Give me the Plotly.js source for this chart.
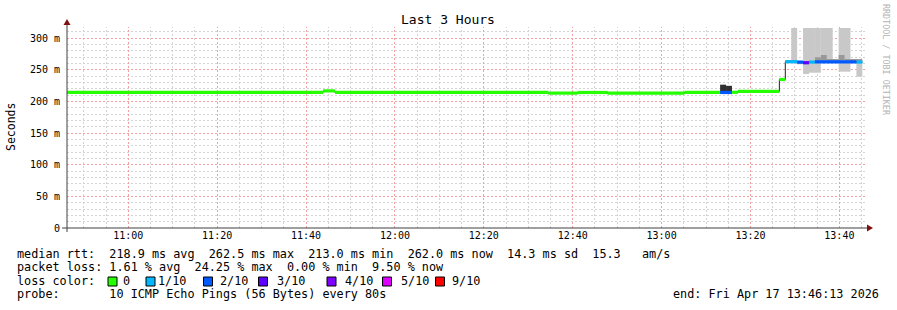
<!DOCTYPE html>
<html><head><meta charset="utf-8">
<script src="https://cdn.plot.ly/plotly-3.0.1.min.js"></script>
<style>html,body{margin:0;padding:0;background:#fff}#chart{width:897px;height:310px}</style>
</head><body><div id="chart"></div>
<script>
const DAY = '2026-04-17';
const windowStart = '10:46:13';
const windowEnd = '13:46:13';

// median RTT (ms), drawn as steps; loss level index per step segment
const segStart = ['10:46:13','11:43:50','11:46:30','12:34:30','12:41:10','12:47:50','13:05:10','13:13:10','13:15:50','13:17:10','13:26:30','13:27:50','13:30:30','13:31:50','13:33:10','13:34:30','13:43:50'];
const segEnd   = ['11:43:50','11:46:30','12:34:30','12:41:10','12:47:50','13:05:10','13:13:10','13:15:50','13:17:10','13:26:30','13:27:50','13:30:30','13:31:50','13:33:10','13:34:30','13:43:50','13:45:10'];
const medianMs = [214.0,216.5,214.0,213.0,214.0,213.0,214.3,214.0,214.3,215.8,234.5,262.5,262.0,261.0,262.0,262.3,262.0];
const lossLevel = [0,0,0,0,0,0,0,2,0,0,0,1,2,3,1,2,1];

// smoke (ping spread), ms; shade 0 light, 1 medium, 2 dark
const smokeStart = ['13:29:10','13:31:50','13:33:10','13:34:30','13:35:50','13:39:50','13:43:50',
                    '13:27:50','13:30:30','13:34:30','13:35:50','13:37:10','13:39:50','13:41:10',
                    '13:13:10','13:14:30'];
const smokeEnd   = ['13:30:30','13:33:10','13:34:30','13:35:50','13:38:30','13:42:30','13:45:10',
                    '13:30:30','13:33:10','13:35:50','13:37:10','13:39:50','13:41:10','13:45:10',
                    '13:14:30','13:15:50'];
const smokeLow   = [262.5,243.2,245.2,245.2,262.0,246.8,238.9,
                    263.0,258.7,261.0,261.0,260.5,260.5,260.5,
                    215.0,215.0];
const smokeHigh  = [315.8,315.8,315.8,315.8,315.8,315.8,262.0,
                    265.2,261.9,269.5,273.2,266.8,273.2,266.8,
                    226.3,224.5];
const smokeShade = [0,0,0,0,0,0,0, 1,1,1,1,1,1,1, 2,2];
const shadeColors = ['#c8c8c8','#999999','#303030'];

const lossLabels = ['0','1/10','2/10','3/10','4/10','5/10','9/10'];
const lossColors = ['#26ff00','#00b8ff','#0059ff','#5e00ff','#7e00ff','#dd00ff','#ff0000'];

const yTickVals = [0,50,100,150,200,250,300];
const yTickText = ['0','50 m','100 m','150 m','200 m','250 m','300 m'];
const xTickVals = ['11:00','11:20','11:40','12:00','12:20','12:40','13:00','13:20','13:40'];

const legendLine1 = 'median rtt:  218.9 ms avg  262.5 ms max  213.0 ms min  262.0 ms now  14.3 ms sd  15.3   am/s';
const legendLine2 = 'packet loss: 1.61 % avg  24.25 % max  0.00 % min  9.50 % now';
const legendLine3 = 'loss color:';
const legendLine4 = 'probe:       10 ICMP Echo Pings (56 Bytes) every 80s';
const endText = 'end: Fri Apr 17 13:46:13 2026';
const titleText = 'Last 3 Hours';
const yTitle = 'Seconds';
const watermark = 'RRDTOOL / TOBI OETIKER';

// ---- build ----
const T = t => DAY + ' ' + (t.length === 5 ? t + ':00' : t);
const ms = t => Date.parse(DAY + 'T' + (t.length === 5 ? t + ':00' : t));
const nb = s => s.replace(/ /g, '\u00a0');

const traces = [];
for (let s = 0; s < shadeColors.length; s++) {
  const idx = smokeShade.map((v,i)=>v===s?i:-1).filter(i=>i>=0);
  traces.push({
    type:'bar', x: idx.map(i=>T(smokeStart[i])), base: idx.map(i=>smokeLow[i]),
    y: idx.map(i=>smokeHigh[i]-smokeLow[i]),
    width: idx.map(i=>ms(smokeEnd[i])-ms(smokeStart[i])), offset: 0,
    marker:{color: shadeColors[s], line:{width:0}}, hoverinfo:'skip'
  });
}
traces.push({
  type:'scatter', mode:'lines', x: segStart.map(T).concat([T(segEnd[segEnd.length-1])]),
  y: medianMs.concat([medianMs[medianMs.length-1]]), line:{shape:'hv', color:'#202020', width:1}
});
for (let L = 0; L < lossColors.length; L++) {
  const xs = [], ys = [];
  lossLevel.forEach((lv,i)=>{ if (lv===L) { xs.push(T(segStart[i]), T(segEnd[i]), null); ys.push(medianMs[i], medianMs[i], null); } });
  if (xs.length) traces.push({type:'scatter', mode:'lines', x: xs, y: ys, connectgaps:false,
    line:{color: lossColors[L], width:3.2}});
}

const PL=67, PR=867, PT=27, PB=228;
const PX = p => (p-PL)/(PR-PL);
const PY = p => (PB-p)/(PB-PT);
const mono = 'DejaVu Sans Mono, Liberation Mono, monospace';
const YMAX = (PB-PT)/0.63333;

const ann = [];
const txt = (s, x, y, anchor, size, extra) => ann.push(Object.assign({
  text: nb(s), xref:'paper', yref:'paper', x: PX(x), y: PY(y), xanchor: anchor||'left', yanchor:'middle',
  showarrow:false, font:{family:mono, size: size||11.8, color:'#000'}
}, extra||{}));
txt(legendLine1, 15, 253.5);
txt(legendLine2, 15, 267);
txt(legendLine3, 15, 280.5);
txt(legendLine4, 15, 294);
txt(endText, 881, 294, 'right');
const labelX = [121,156,217.5,274.5,343,398.5,450];
const boxX = [108,146,203.5,258.5,327,382.5,435.5];
lossLabels.forEach((l,i)=>txt(l, labelX[i], 280.5));
txt(yTitle, 11, 127, 'center', 11.5, {textangle:-90});
txt(watermark, 886, 60, 'center', 8.4, {textangle:90, font:{family:mono, size:8.4, color:'#b4b4b4'}});

const shapes = [];
const minorCol = '#d4d4d4', majorCol = '#f0a0a0';
const gridDash = '2px,2px';
const majorMs = xTickVals.map(ms);
for (let t = ms('10:50'); t <= ms('13:45'); t += 5*60*1000) {
  if (majorMs.includes(t)) continue;
  shapes.push({type:'line', xref:'x', yref:'paper', x0:t, x1:t, y0:0, y1:1, layer:'below', line:{color:minorCol, width:1, dash:gridDash}});
}
for (let v = 10; v < YMAX; v += 10) {
  if (v % 50 === 0) continue;
  shapes.push({type:'line', xref:'paper', yref:'y', x0:0, x1:1, y0:v, y1:v, layer:'below', line:{color:minorCol, width:1, dash:gridDash}});
}
majorMs.forEach(t=>shapes.push({type:'line', xref:'x', yref:'paper', x0:t, x1:t, y0:0, y1:1, layer:'below', line:{color:majorCol, width:1, dash:gridDash}}));
yTickVals.filter(v=>v>0).forEach(v=>shapes.push({type:'line', xref:'paper', yref:'y', x0:0, x1:1, y0:v, y1:v, layer:'below', line:{color:majorCol, width:1, dash:gridDash}}));

lossColors.forEach((c,i)=>shapes.push({type:'rect', xref:'paper', yref:'paper',
  x0: PX(boxX[i]), x1: PX(boxX[i]+9), y0: PY(277), y1: PY(286), fillcolor:c, line:{color:'#000', width:1}}));
shapes.push({type:'line', xref:'paper', yref:'paper', x0:PX(62), x1:PX(868), y0:0, y1:0, line:{color:'#404040', width:1}, layer:'above'});
shapes.push({type:'line', xref:'paper', yref:'paper', x0:0, x1:0, y0:PY(232), y1:PY(24), line:{color:'#404040', width:1}, layer:'above'});
shapes.push({type:'path', xref:'paper', yref:'paper', layer:'above',
  path:`M${PX(867)},${PY(224.5)} L${PX(873)},${PY(228)} L${PX(867)},${PY(231.5)} Z`, fillcolor:'#801010', line:{width:0}});
shapes.push({type:'path', xref:'paper', yref:'paper', layer:'above',
  path:`M${PX(63.5)},${PY(25)} L${PX(67)},${PY(19)} L${PX(70.5)},${PY(25)} Z`, fillcolor:'#801010', line:{width:0}});

const layout = {
  width:897, height:310, margin:{l:PL, r:897-PR, t:PT, b:310-PB},
  paper_bgcolor:'#fff', plot_bgcolor:'#fff', showlegend:false, barmode:'overlay', hovermode:false,
  title:{text:titleText, xref:'container', yref:'container', x:448/897, y:1-19/310, xanchor:'center', yanchor:'middle',
    font:{family:mono, size:13, color:'#000'}},
  xaxis:{type:'date', range:[T(windowStart), T(windowEnd)], tickmode:'array', tickvals:xTickVals.map(T), ticktext:xTickVals,
    showgrid:false, showline:false, zeroline:false, ticks:'', tickfont:{family:mono, size:10, color:'#000'}, fixedrange:true},
  yaxis:{range:[0,YMAX], tickmode:'array', tickvals:yTickVals, ticktext:yTickText,
    showgrid:false, showline:false, zeroline:false, ticks:'outside', ticklen:4, tickcolor:'rgba(0,0,0,0)',
    tickfont:{family:mono, size:10, color:'#000'}, fixedrange:true},
  annotations: ann, shapes: shapes
};
Plotly.newPlot('chart', traces, layout, {staticPlot:true, displayModeBar:false}).then(gd => {
  gd.querySelectorAll('.layer-below .shapelayer path').forEach(p => { p.style.shapeRendering = 'crispEdges'; });
});
</script></body></html>
